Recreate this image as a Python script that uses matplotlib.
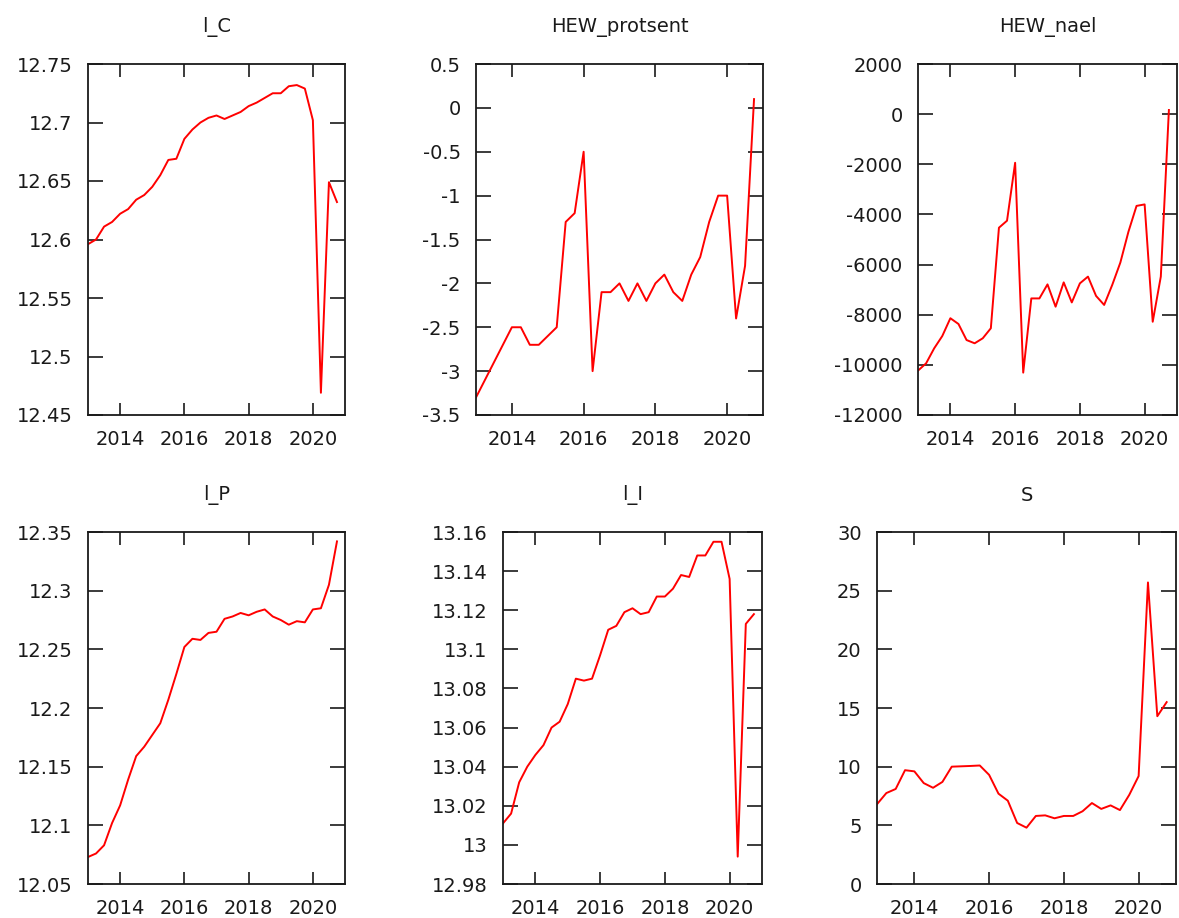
"""
Six quarterly time series, 2013Q1-2020Q4, in a gretl/gnuplot-like grid.
"""

import matplotlib

matplotlib.use('Agg')
import matplotlib.pyplot as plt
import numpy as np

plt.rcParams['font.family'] = ['DejaVu Sans']
plt.rcParams['axes.unicode_minus'] = False

# quarterly data, 2013Q1 .. 2020Q4
start_year = 2013
n_quarters = 32

l_C = [12.596, 12.600, 12.611, 12.615, 12.622, 12.626, 12.634, 12.638,
       12.645, 12.655, 12.668, 12.669, 12.686, 12.694, 12.700, 12.704,
       12.706, 12.703, 12.706, 12.709, 12.714, 12.717, 12.721, 12.725,
       12.725, 12.731, 12.732, 12.729, 12.702, 12.469, 12.649, 12.632]

HEW_protsent = [-3.3, -3.1, -2.9, -2.7, -2.5, -2.5, -2.7, -2.7,
                -2.6, -2.5, -1.3, -1.2, -0.5, -3.0, -2.1, -2.1,
                -2.0, -2.2, -2.0, -2.2, -2.0, -1.9, -2.1, -2.2,
                -1.9, -1.7, -1.3, -1.0, -1.0, -2.4, -1.8, 0.1]

HEW_nael = [-10230, -9940, -9340, -8850, -8140, -8370, -9010, -9140,
            -8940, -8540, -4530, -4250, -1940, -10310, -7350, -7350,
            -6790, -7680, -6710, -7510, -6750, -6480, -7250, -7610,
            -6810, -5920, -4690, -3660, -3600, -8280, -6480, 165]

l_P = [12.073, 12.076, 12.083, 12.102, 12.117, 12.139, 12.159, 12.167,
       12.177, 12.187, 12.207, 12.229, 12.252, 12.259, 12.258, 12.264,
       12.265, 12.276, 12.278, 12.281, 12.279, 12.282, 12.284, 12.278,
       12.275, 12.271, 12.274, 12.273, 12.284, 12.285, 12.305, 12.342]

l_I = [13.011, 13.016, 13.032, 13.040, 13.046, 13.051, 13.060, 13.063,
       13.072, 13.085, 13.084, 13.085, 13.097, 13.110, 13.112, 13.119,
       13.121, 13.118, 13.119, 13.127, 13.127, 13.131, 13.138, 13.137,
       13.148, 13.148, 13.155, 13.155, 13.136, 12.994, 13.113, 13.118]

S = [6.8, 7.75, 8.1, 9.7, 9.6, 8.6, 8.2, 8.7,
     10.0, 10.03, 10.06, 10.1, 9.3, 7.7, 7.1, 5.2,
     4.8, 5.8, 5.85, 5.6, 5.8, 5.8, 6.2, 6.9,
     6.4, 6.7, 6.3, 7.6, 9.2, 25.7, 14.3, 15.5]

series_names = ['l_C', 'HEW_protsent', 'HEW_nael', 'l_P', 'l_I', 'S']
series_values = [l_C, HEW_protsent, HEW_nael, l_P, l_I, S]

# y axis (min, max, step) per panel
y_axes = [(12.45, 12.75, 0.05), (-3.5, 0.5, 0.5), (-12000, 2000, 2000),
          (12.05, 12.35, 0.05), (12.98, 13.16, 0.02), (0, 30, 5)]
x_ticks = [2014, 2016, 2018, 2020]

W, H = 1179, 918
# axes boxes in pixels: left, right, top, bottom
boxes = [(88, 345, 64, 415), (476, 763, 64, 415), (918, 1177, 64, 415),
         (88, 345, 532, 884), (503, 762, 532, 884), (877, 1176, 532, 884)]

t = start_year + np.arange(n_quarters) / 4.0

fig = plt.figure(figsize=(W / 100, H / 100), dpi=100)
for name, vals, (ymin, ymax, step), (l, r, top, b) in zip(
        series_names, series_values, y_axes, boxes):
    ax = fig.add_axes((l / W, 1 - b / H, (r - l) / W, (b - top) / H))
    ax.plot(t, vals, color='#ff0000', lw=1.4)
    ax.set_xlim(2013, 2021)
    ax.set_ylim(ymin, ymax)
    ax.set_xticks(x_ticks)
    ax.set_xticklabels([str(x) for x in x_ticks])
    yt = np.arange(ymin, ymax + step / 2, step)
    ax.set_yticks(yt)
    ax.set_yticklabels([f"{round(v, 4):g}" for v in yt])
    ax.tick_params(axis='both', direction='in', labelsize=14,
                   colors='#1a1a1a', width=1.2)
    ax.tick_params(axis='x', length=9, top=True, pad=11)
    ax.tick_params(axis='y', length=11, right=True, pad=11)
    for sp in ax.spines.values():
        sp.set_linewidth(1.3)
        sp.set_color('#1a1a1a')
    ax.annotate(name, xy=(0.5, 1.0), xycoords='axes fraction',
                xytext=(0, 26.5), textcoords='offset points',
                ha='center', va='center', fontsize=14, color='#1a1a1a')

fig.savefig('out.png', dpi=100, facecolor='white')
